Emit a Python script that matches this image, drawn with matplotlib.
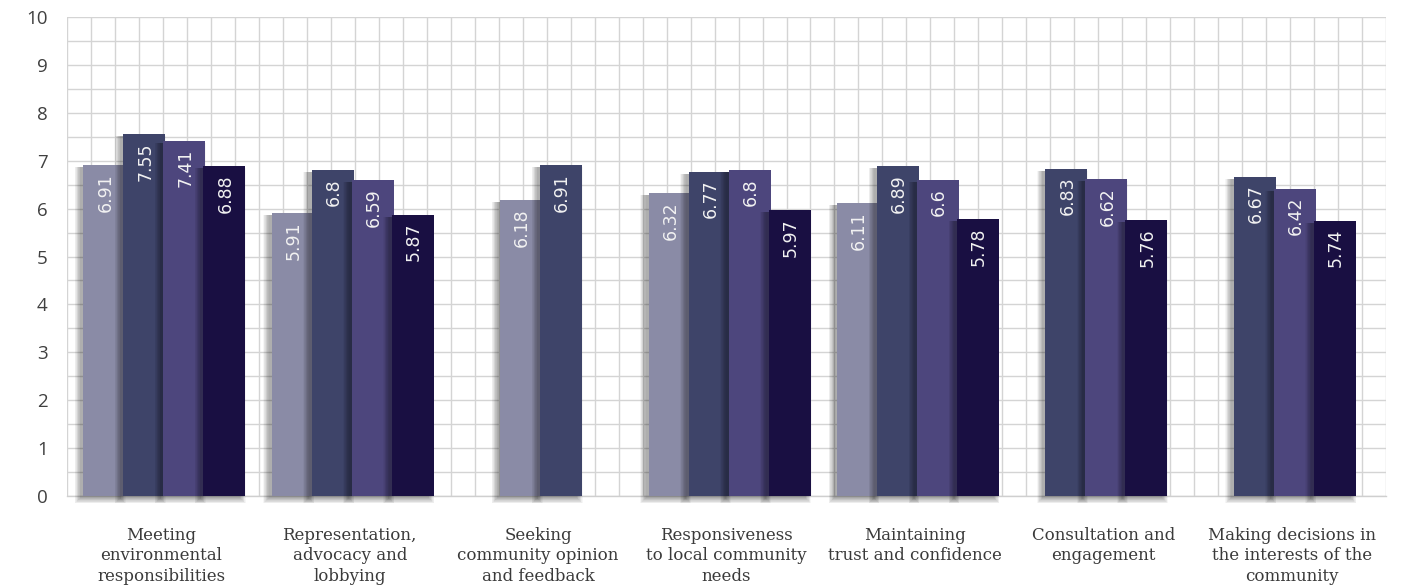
import numpy as np
import matplotlib.pyplot as plt
from matplotlib.patches import Rectangle

# Category labels (wrapped as shown under the axis)
categories = [
    "Meeting\nenvironmental\nresponsibilities",
    "Representation,\nadvocacy and\nlobbying",
    "Seeking\ncommunity opinion\nand feedback",
    "Responsiveness\nto local community\nneeds",
    "Maintaining\ntrust and confidence",
    "Consultation and\nengagement",
    "Making decisions in\nthe interests of the\ncommunity",
]

# Four series; None where a series has no value for that category
series_1 = [6.91, 5.91, 6.18, 6.32, 6.11, None, None]
series_2 = [7.55, 6.80, 6.91, 6.77, 6.89, 6.83, 6.67]
series_3 = [7.41, 6.59, None, 6.80, 6.60, 6.62, 6.42]
series_4 = [6.88, 5.87, None, 5.97, 5.78, 5.76, 5.74]

series = [series_1, series_2, series_3, series_4]
colors = ["#8a8ba6", "#3e4469", "#4d467d", "#190f42"]

yticks = list(range(0, 11))

fig = plt.figure(figsize=(14.27, 5.87), dpi=100)
ax = fig.add_axes([0.047, 0.155, 0.9243, 0.816])

ax.set_xlim(-0.5, len(categories) - 0.5)
ax.set_ylim(0, 10)

# grid: half-unit rows, narrow columns
ax.set_yticks(yticks)
ax.set_yticks(np.arange(0, 10.01, 0.5), minor=True)
ax.set_xticks(np.linspace(-0.5, len(categories) - 0.5, 56), minor=True)
ax.set_xticks(range(len(categories)))
ax.grid(axis="y", which="both", color="#d4d4d4", linewidth=1.0, zorder=0)
ax.grid(axis="x", which="minor", color="#d4d4d4", linewidth=1.0, zorder=0)
ax.set_axisbelow(True)
for side in ["top", "right", "left"]:
    ax.spines[side].set_visible(False)
ax.spines["bottom"].set_color("#cfcfcf")
ax.spines["bottom"].set_linewidth(1.0)

ax.tick_params(axis="y", which="both", length=0, pad=14,
               labelsize=13.5, labelcolor="#404040")
ax.tick_params(axis="x", which="both", length=0, pad=22)
ax.set_yticklabels([str(t) for t in yticks], fontfamily="Open Sans")
ax.set_xticklabels(categories, fontfamily="DejaVu Serif", fontsize=12,
                   color="#3a3a3a", linespacing=1.3)

bar_w = 0.223
step = 0.2123
px_x = 1.0 / 188.4   # data units per pixel horizontally
px_y = 10.0 / 479.0  # data units per pixel vertically

z = 3
for ci in range(len(categories)):
    present = [si for si in range(len(series)) if series[si][ci] is not None]
    n = len(present)
    for k, si in enumerate(present):
        val = series[si][ci]
        x0 = ci + (k - (n - 1) / 2) * step - bar_w / 2 + 3 * px_x
        # soft drop shadow, offset to the lower left
        for layer in range(10):
            grow = layer * 0.6
            ax.add_patch(Rectangle(
                (x0 - 3 * px_x - grow * px_x, -2 * px_y - grow * px_y),
                bar_w + 2 * grow * px_x - 2 * px_x, val + grow * px_y,
                facecolor="black", edgecolor="none", alpha=0.035,
                zorder=z, clip_on=False))
        z += 1
        ax.add_patch(Rectangle((x0, 0), bar_w, val, facecolor=colors[si],
                               edgecolor="none", zorder=z))
        ax.text(x0 + bar_w / 2 + 1 * px_x, val - 8 * px_y, f"{val:g}",
                rotation=90, ha="center", va="top", color="#f2f2f2",
                fontsize=12.5, fontfamily="DejaVu Sans", zorder=z + 1)
        z += 2

fig.savefig("out.png", dpi=100, facecolor="white")
